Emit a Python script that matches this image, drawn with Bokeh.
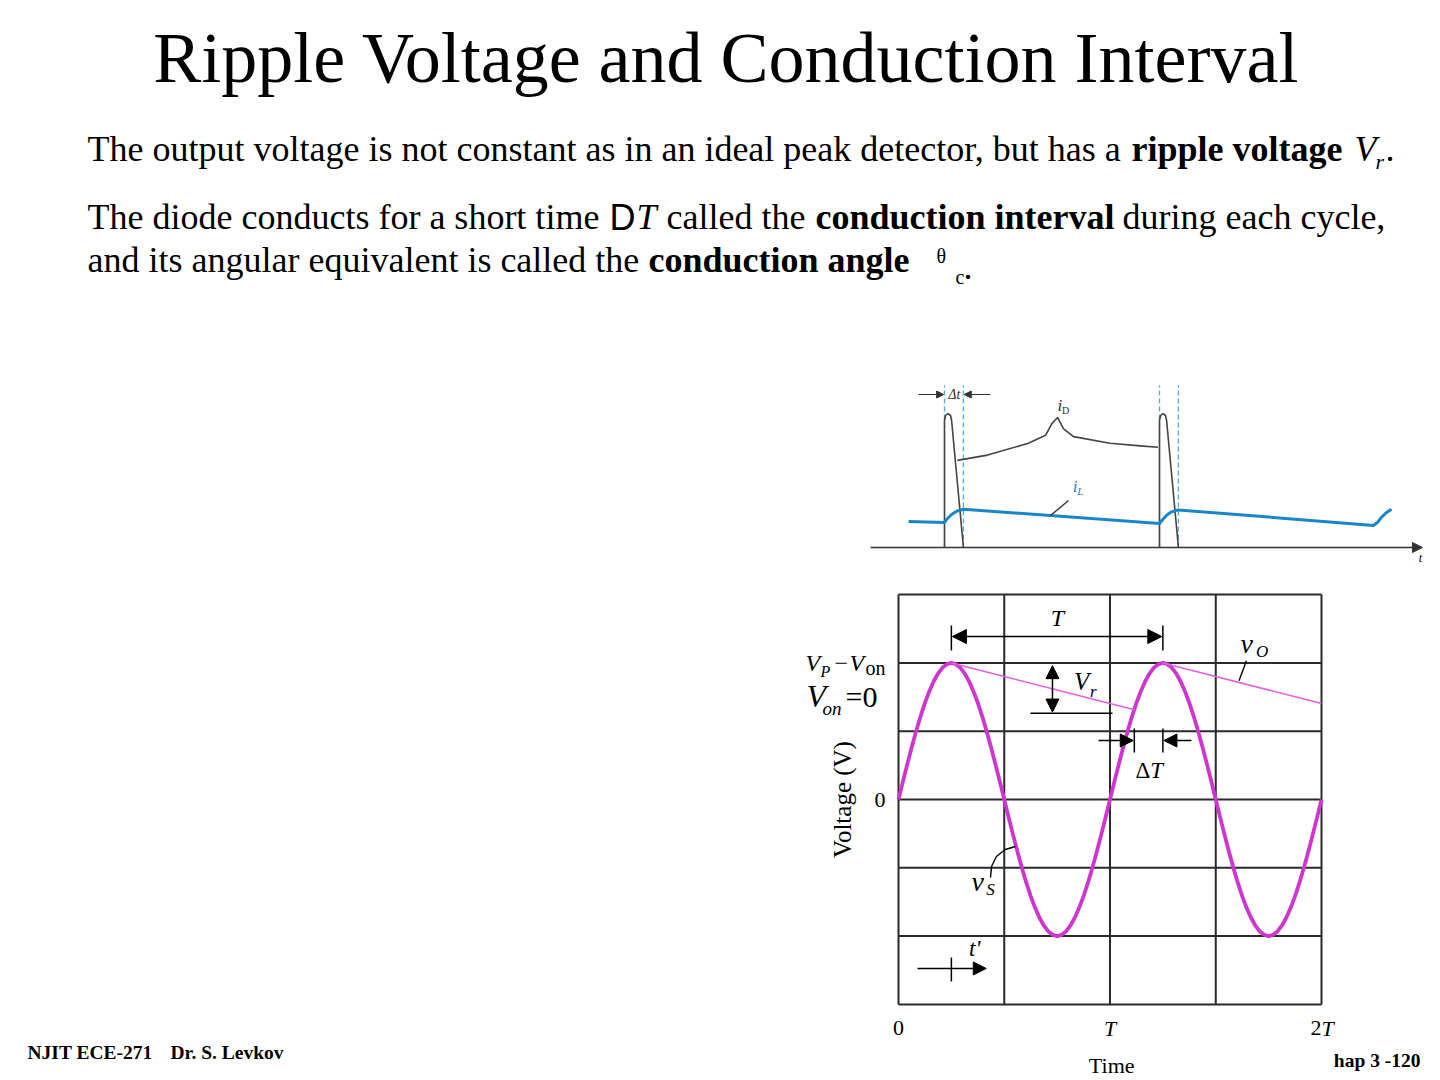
from bokeh.plotting import figure
from bokeh.models import Range1d, Arrow, NormalHead
from bokeh.embed import file_html
from bokeh.resources import INLINE
from bokeh.core.properties import value
import math

# ---------------- data: lower chart (time in periods T, voltage in units of V_P) -------------
t_grid = [0.0, 0.5, 1.0, 1.5, 2.0]
v_grid = [-1.5, -1.0, -0.5, 0.0, 0.5, 1.0, 1.5]
vs_t = [0.0000, 0.0208, 0.0417, 0.0625, 0.0833, 0.1042, 0.1250, 0.1458, 0.1667, 0.1875, 0.2083, 0.2292,
        0.2500, 0.2708, 0.2917, 0.3125, 0.3333, 0.3542, 0.3750, 0.3958, 0.4167, 0.4375, 0.4583, 0.4792,
        0.5000, 0.5208, 0.5417, 0.5625, 0.5833, 0.6042, 0.6250, 0.6458, 0.6667, 0.6875, 0.7083, 0.7292,
        0.7500, 0.7708, 0.7917, 0.8125, 0.8333, 0.8542, 0.8750, 0.8958, 0.9167, 0.9375, 0.9583, 0.9792,
        1.0000, 1.0208, 1.0417, 1.0625, 1.0833, 1.1042, 1.1250, 1.1458, 1.1667, 1.1875, 1.2083, 1.2292,
        1.2500, 1.2708, 1.2917, 1.3125, 1.3333, 1.3542, 1.3750, 1.3958, 1.4167, 1.4375, 1.4583, 1.4792,
        1.5000, 1.5208, 1.5417, 1.5625, 1.5833, 1.6042, 1.6250, 1.6458, 1.6667, 1.6875, 1.7083, 1.7292,
        1.7500, 1.7708, 1.7917, 1.8125, 1.8333, 1.8542, 1.8750, 1.8958, 1.9167, 1.9375, 1.9583, 1.9792,
        2.0000]
vs_v = [0.0, 0.131, 0.259, 0.383, 0.5, 0.609, 0.707, 0.793, 0.866, 0.924, 0.966, 0.991,
        1.0, 0.991, 0.966, 0.924, 0.866, 0.793, 0.707, 0.609, 0.5, 0.383, 0.259, 0.131,
        0.0, -0.131, -0.259, -0.383, -0.5, -0.609, -0.707, -0.793, -0.866, -0.924, -0.966, -0.991,
        -1.0, -0.991, -0.966, -0.924, -0.866, -0.793, -0.707, -0.609, -0.5, -0.383, -0.259, -0.131,
        0.0, 0.131, 0.259, 0.383, 0.5, 0.609, 0.707, 0.793, 0.866, 0.924, 0.966, 0.991,
        1.0, 0.991, 0.966, 0.924, 0.866, 0.793, 0.707, 0.609, 0.5, 0.383, 0.259, 0.131,
        0.0, -0.131, -0.259, -0.383, -0.5, -0.609, -0.707, -0.793, -0.866, -0.924, -0.966, -0.991,
        -1.0, -0.991, -0.966, -0.924, -0.866, -0.793, -0.707, -0.609, -0.5, -0.383, -0.259, -0.131,
        0.0]
vo1_t = [0.25, 1.115]
vo1_v = [1.0, 0.657]
vo2_t = [1.25, 2.0]
vo2_v = [1.0, 0.703]
x_tick_t = [0.0, 1.0, 2.0]
x_tick_num = ["0", "", "2"]
x_tick_sym = ["", "T", "T"]
vs_leader_t = [0.435, 0.44, 0.463, 0.505, 0.553]
vs_leader_v = [-0.571, -0.49, -0.417, -0.366, -0.344]

# ---------------- data: upper chart (time in periods from first pulse, current in units of peak iD)
pulse1_t = [0.0, 0.0, 0.005, 0.016, 0.028, 0.033, 0.088]
pulse_i = [0.0, 0.962, 1.0, 1.015, 1.0, 0.962, 0.0]
pulse2_t = [1.0, 1.0, 1.005, 1.016, 1.028, 1.033, 1.088]
iL_t = [-0.167, 0.0, 0.014, 0.033, 0.056, 0.088, 1.0, 1.014, 1.033, 1.056, 1.088,
        1.995, 2.014, 2.033, 2.056, 2.079]
iL_i = [0.197, 0.19, 0.22, 0.25, 0.275, 0.29, 0.182, 0.21, 0.245, 0.27, 0.285,
        0.167, 0.19, 0.23, 0.265, 0.29]
dash_t = [0.0, 0.088, 1.0, 1.088]
brace_t = [0.06, 0.2, 0.39, 0.47, 0.5, 0.526, 0.553, 0.6, 0.77, 0.91, 0.993]
brace_i = [0.66, 0.7, 0.79, 0.85, 0.94, 0.985, 0.9, 0.84, 0.79, 0.77, 0.76]

# ---------------- figure: one page canvas, pixel coordinates -------------------------------
W, H = 1440, 1080
p = figure(width=W, height=H, output_backend="svg", toolbar_location=None,
           x_range=Range1d(0, W), y_range=Range1d(H, 0), min_border=0,
           x_axis_location=None, y_axis_location=None, background_fill_color="white",
           border_fill_color="white")
p.grid.visible = False
p.outline_line_color = None

# scale of the lower chart: x = 898 + 211.5 t, y = 799 - 136.6 v
VX0, VXS, VY0, VYS = 898.0, 211.5, 799.0, 136.6
# scale of the upper chart: x = 944 + 215 t, y = 547 - 132 i
CX0, CXS, CY0, CYS = 944.0, 215.0, 547.0, 132.0
p.extra_x_ranges = {"vt": Range1d((0 - VX0) / VXS, (W - VX0) / VXS),
                    "ct": Range1d((0 - CX0) / CXS, (W - CX0) / CXS)}
p.extra_y_ranges = {"vv": Range1d((VY0 - H) / VYS, (VY0 - 0) / VYS),
                    "ci": Range1d((CY0 - H) / CYS, (CY0 - 0) / CYS)}
V = dict(x_range_name="vt", y_range_name="vv")
C = dict(x_range_name="ct", y_range_name="ci")

SERIF = "Liberation Serif"
MID = 0.3375  # em distance from the alphabetic baseline to the middle of the em box


def txt(x, y, s, size, style="normal", font=SERIF, align="left", color="black",
        angle=0.0, rng=None, baseline="alphabetic"):
    """y is the alphabetic baseline; text is placed by the middle of its em box."""
    kw = rng or {}
    if baseline == "alphabetic":
        if rng is V:
            y = y + MID * size / VYS
        elif rng is C:
            y = y + MID * size / CYS
        else:
            y = y - MID * size
    p.text(x=[x], y=[y], text=[s], text_font=value(font), text_font_size=value(f"{size}px"),
           text_font_style=style, text_align=align, text_baseline="middle",
           text_color=color, angle=angle, **kw)


def arrow(x0, y0, x1, y1, size=12, rng=None, lw=1.5, color="black"):
    kw = rng or {}
    head = NormalHead(size=size, fill_color=color, line_color=color, line_width=1)
    p.add_layout(Arrow(end=head, x_start=x0, y_start=y0, x_end=x1, y_end=y1,
                       line_color=color, line_width=lw, **kw))


# ---------------- slide text ----------------------------------------------------------------
txt(726, 82, "Ripple Voltage and Conduction Interval", 72, align="center")

txt(87, 161, "The output voltage is not constant as in an ideal peak detector, but has a", 36)
txt(1131, 161, "ripple voltage", 36, "bold")
txt(1354, 161, "V", 36, "italic")
txt(1375, 168, "r", 22, "italic")
txt(1385, 161, ".", 36)

txt(87, 229, "The diode conducts for a short time", 36)
txt(609, 229, "D", 36, font="Liberation Sans")
txt(636, 229, "T", 36, "italic")
txt(666, 229, "called the", 36)
txt(815, 229, "conduction interval", 36, "bold")
txt(1122, 229, "during each cycle,", 36)

txt(87, 272, "and its angular equivalent is called the", 36)
txt(648, 272, "conduction angle", 36, "bold")
txt(936, 262, "θ", 20)
txt(955, 283, "c", 20)
txt(963, 279, ".", 36)

txt(27, 1059, "NJIT ECE-271", 19.5, "bold")
txt(170, 1059, "Dr. S. Levkov", 19.5, "bold")
txt(1420, 1067, "hap 3 -120", 19.5, "bold", align="right")

# ---------------- upper chart: diode and load currents --------------------------------------
for t in dash_t:
    p.line([t, t], [0.0, 1.23], line_color="#5aa9d6", line_width=1.3, line_dash="5 3", **C)
p.line(pulse1_t, pulse_i, line_color="#444444", line_width=1.6, **C)
p.line(pulse2_t, pulse_i, line_color="#444444", line_width=1.6, **C)
p.line(iL_t, iL_i, line_color="#1a86c8", line_width=3, line_join="round", **C)
p.line(brace_t, brace_i, line_color="#444444", line_width=1.6, line_join="round", **C)
arrow(-0.344, 0.0, 2.223, 0.0, size=10, rng=C, color="#333333", lw=1.6)
txt(2.214, -0.11, "t", 12, "italic", rng=C, align="center")
# delta t marker
arrow(-0.121, 1.159, -0.004, 1.159, size=7, rng=C, color="#333333", lw=1.2)
arrow(0.214, 1.159, 0.092, 1.159, size=7, rng=C, color="#333333", lw=1.2)
txt(0.046, 1.12, "Δt", 14, "italic", rng=C, align="center", color="#333333")
txt(0.525, 1.03, "i", 17, "italic", rng=C, color="#333333")
txt(0.547, 1.015, "D", 10, rng=C, color="#333333")
# iL label
txt(0.596, 0.42, "i", 17, "italic", rng=C, color="#1a86c8")
txt(0.618, 0.4, "L", 11, "italic", rng=C, color="#1a86c8")
p.line([0.493, 0.577], [0.242, 0.356], line_color="#333333", line_width=1.4, **C)

# ---------------- lower chart: source and output voltage ------------------------------------
for t in t_grid:
    p.line([t, t], [v_grid[0], v_grid[-1]], line_color="#2a2a2a", line_width=2, **V)
for v in v_grid:
    p.line([t_grid[0], t_grid[-1]], [v, v], line_color="#2a2a2a", line_width=2, **V)
p.line(vs_t, vs_v, line_color="#cf35cf", line_width=3.8, line_join="round", **V)
p.line(vo1_t, vo1_v, line_color="#e060e0", line_width=1.6, **V)
p.line(vo2_t, vo2_v, line_color="#e060e0", line_width=1.6, **V)

# T dimension
for t in [0.25, 1.25]:
    p.line([t, t], [1.091, 1.274], line_color="black", line_width=1.5, **V)
arrow(0.75, 1.193, 0.255, 1.193, size=14, rng=V)
arrow(0.75, 1.193, 1.245, 1.193, size=14, rng=V)
txt(0.752, 1.27, "T", 24, "italic", rng=V, align="center")
# vO label
txt(1.617, 1.076, "v", 28, "italic", rng=V)
txt(1.69, 1.045, "O", 17, "italic", rng=V)
p.line([1.645, 1.61], [1.015, 0.87], line_color="black", line_width=1.4, **V)
# Vr
arrow(0.728, 0.81, 0.728, 0.98, size=13, rng=V)
arrow(0.728, 0.81, 0.728, 0.64, size=13, rng=V)
p.line([0.624, 1.012], [0.632, 0.632], line_color="black", line_width=1.5, **V)
txt(0.83, 0.8, "V", 25, "italic", rng=V)
txt(0.906, 0.75, "r", 17, "italic", rng=V)
# Delta T
arrow(0.946, 0.432, 1.11, 0.432, size=13, rng=V)
arrow(1.385, 0.432, 1.255, 0.432, size=13, rng=V)
for t in [1.115, 1.25]:
    p.line([t, t], [0.344, 0.52], line_color="black", line_width=1.5, **V)
txt(1.19, 0.154, "Δ", 23, rng=V, align="right")
txt(1.19, 0.154, "T", 23, "italic", rng=V, align="left")
# vS
txt(0.345, -0.666, "v", 28, "italic", rng=V)
txt(0.415, -0.70, "S", 17, "italic", rng=V)
p.line(vs_leader_t, vs_leader_v, line_color="black", line_width=1.4, line_join="round", **V)
# t' arrow
arrow(0.09, -1.237, 0.415, -1.237, size=13, rng=V)
p.line([0.25, 0.25], [-1.157, -1.332], line_color="black", line_width=1.5, **V)
txt(0.36, -1.15, "t'", 23, "italic", rng=V, align="center")

# axis labels
for t, num, sym in zip(x_tick_t, x_tick_num, x_tick_sym):
    if num and sym:
        txt(t, -1.728, num, 22, rng=V, align="right")
        txt(t, -1.728, sym, 22, "italic", rng=V, align="left")
    elif num:
        txt(t, -1.728, num, 22, rng=V, align="center")
    else:
        txt(t, -1.728, sym, 22, "italic", rng=V, align="center")
txt(1.008, -1.999, "Time", 22, rng=V, align="center")
txt(-0.061, 0.0, "0", 22, rng=V, align="right", baseline="middle")
txt(-0.264, 0.0, "Voltage (V)", 25, rng=V, align="center", baseline="middle", angle=math.pi / 2)

# Vp - Von label
txt(805, 671, "V", 24, "italic")
txt(820, 676, "P", 16, "italic")
txt(834, 671, "−", 24)
txt(849, 671, "V", 24, "italic")
txt(865, 674, "on", 20)
txt(806, 706, "V", 32, "italic")
txt(822, 714, "on", 19, "italic")
txt(845, 706, "=0", 30)

open("out.html", "w").write(file_html(p, INLINE))
